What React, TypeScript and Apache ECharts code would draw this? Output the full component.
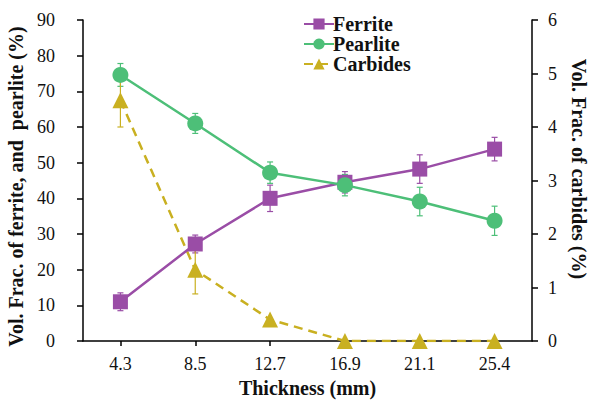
import React, { useEffect, useRef } from "react";
import * as echarts from "echarts";

// Plate thickness categories (mm)
const thickness = ["4.3", "8.5", "12.7", "16.9", "21.1", "25.4"];

// Volume fractions (%) and their standard deviations
const ferrite = [11.0, 27.2, 40.0, 44.5, 48.2, 53.8];
const ferriteErr = [2.5, 2.5, 3.7, 3.0, 4.0, 3.3];

const pearlite = [74.6, 61.0, 47.2, 43.7, 39.1, 33.7];
const pearliteErr = [3.2, 2.8, 3.0, 3.0, 4.0, 4.1];

const carbides = [4.5, 1.33, 0.4, 0, 0, 0];
const carbidesErr = [0.5, 0.45, 0, 0, 0, 0];

const FONT = "'Liberation Serif', 'Times New Roman', serif";
const PURPLE = "#9A4DA6";
const GREEN = "#4DBF78";
const GOLD = "#C9B021";

function errorData(values: number[], errs: number[]) {
  return values
    .map((v, i) => [i, v - errs[i], v + errs[i]])
    .filter((_, i) => errs[i] > 0);
}

function errorSeries(
  values: number[],
  errs: number[],
  color: string,
  yAxisIndex: number
) {
  return {
    type: "custom",
    yAxisIndex,
    silent: true,
    z: 1,
    data: errorData(values, errs),
    renderItem: (params: any, api: any) => {
      const x = api.value(0);
      const lo = api.coord([x, api.value(1)]);
      const hi = api.coord([x, api.value(2)]);
      const cap = 3;
      const style = { stroke: color, lineWidth: 1.2 };
      return {
        type: "group",
        children: [
          { type: "line", shape: { x1: hi[0], y1: hi[1], x2: lo[0], y2: lo[1] }, style },
          { type: "line", shape: { x1: hi[0] - cap, y1: hi[1], x2: hi[0] + cap, y2: hi[1] }, style },
          { type: "line", shape: { x1: lo[0] - cap, y1: lo[1], x2: lo[0] + cap, y2: lo[1] }, style },
        ],
      };
    },
  };
}

export default function App() {
  const ref = useRef<HTMLDivElement>(null);

  useEffect(() => {
    if (!ref.current) return;
    const chart = echarts.init(ref.current, undefined, { renderer: "svg" });

    const axisLine = { show: true, lineStyle: { color: "#000", width: 1.5 } };
    const axisTick = { show: true, inside: false, length: 6, lineStyle: { color: "#000", width: 1.5 } };
    const tickFont = { fontFamily: FONT, fontSize: 18, color: "#111" };
    const titleFont = { fontFamily: FONT, fontSize: 20, fontWeight: "bold", color: "#111" };

    chart.setOption({
      animation: false,
      backgroundColor: "#fff",
      textStyle: { fontFamily: FONT },
      grid: { left: 83, right: 61, top: 20, bottom: 59, containLabel: false, outerBoundsMode: "none" },
      legend: {
        orient: "vertical",
        left: 298,
        top: 9,
        itemWidth: 30,
        itemHeight: 14,
        itemGap: 0,
        textStyle: { ...titleFont, padding: [0, 0, 0, -6] },
        data: ["Ferrite", "Pearlite", "Carbides"],
      },
      // Right-hand axis title, placed directly so it sits clear of the edge
      graphic: [
        {
          type: "text",
          x: 579,
          y: 169,
          rotation: -Math.PI / 2,
          style: {
            text: "Vol. Frac. of carbides (%)",
            fontFamily: FONT,
            fontSize: 20,
            fontWeight: "bold",
            fill: "#111",
            align: "center",
            verticalAlign: "middle",
          },
        },
      ],
      xAxis: {
        type: "category",
        data: thickness,
        boundaryGap: true,
        axisLine,
        axisTick: { ...axisTick, alignWithLabel: true, length: 5 },
        axisLabel: { ...tickFont, margin: 14 },
        name: "Thickness (mm)",
        nameLocation: "middle",
        nameGap: 37,
        nameTextStyle: titleFont,
      },
      yAxis: [
        {
          type: "value",
          min: 0,
          max: 90,
          interval: 10,
          splitLine: { show: false },
          axisLine,
          axisTick,
          axisLabel: { ...tickFont, margin: 28 },
          name: "Vol. Frac. of ferrite, and  pearlite (%)",
          nameLocation: "middle",
          nameRotate: 90,
          nameGap: 48,
          nameTextStyle: { ...titleFont, padding: [0, 12, 0, 0] },
        },
        {
          type: "value",
          position: "right",
          min: 0,
          max: 6,
          interval: 1,
          splitLine: { show: false },
          axisLine,
          axisTick,
          axisLabel: { ...tickFont, margin: 16 },
        },
      ],
      series: [
        errorSeries(ferrite, ferriteErr, PURPLE, 0),
        errorSeries(pearlite, pearliteErr, GREEN, 0),
        errorSeries(carbides, carbidesErr, GOLD, 1),
        {
          name: "Ferrite",
          type: "line",
          yAxisIndex: 0,
          data: ferrite,
          symbol: "rect",
          symbolSize: 15,
          z: 3,
          itemStyle: { color: PURPLE },
          lineStyle: { color: PURPLE, width: 2.5 },
        },
        {
          name: "Pearlite",
          type: "line",
          yAxisIndex: 0,
          data: pearlite,
          symbol: "circle",
          symbolSize: 16,
          z: 4,
          itemStyle: { color: GREEN },
          lineStyle: { color: GREEN, width: 2.5 },
        },
        {
          name: "Carbides",
          type: "line",
          yAxisIndex: 1,
          data: carbides,
          symbol: "triangle",
          symbolSize: 16,
          z: 2,
          itemStyle: { color: GOLD },
          lineStyle: { color: GOLD, width: 2.5, type: [9, 6] },
        },
      ],
    });

    return () => chart.dispose();
  }, []);

  return <div ref={ref} style={{ width: 593, height: 400, position: "absolute", left: 0, top: 0 }} />;
}
